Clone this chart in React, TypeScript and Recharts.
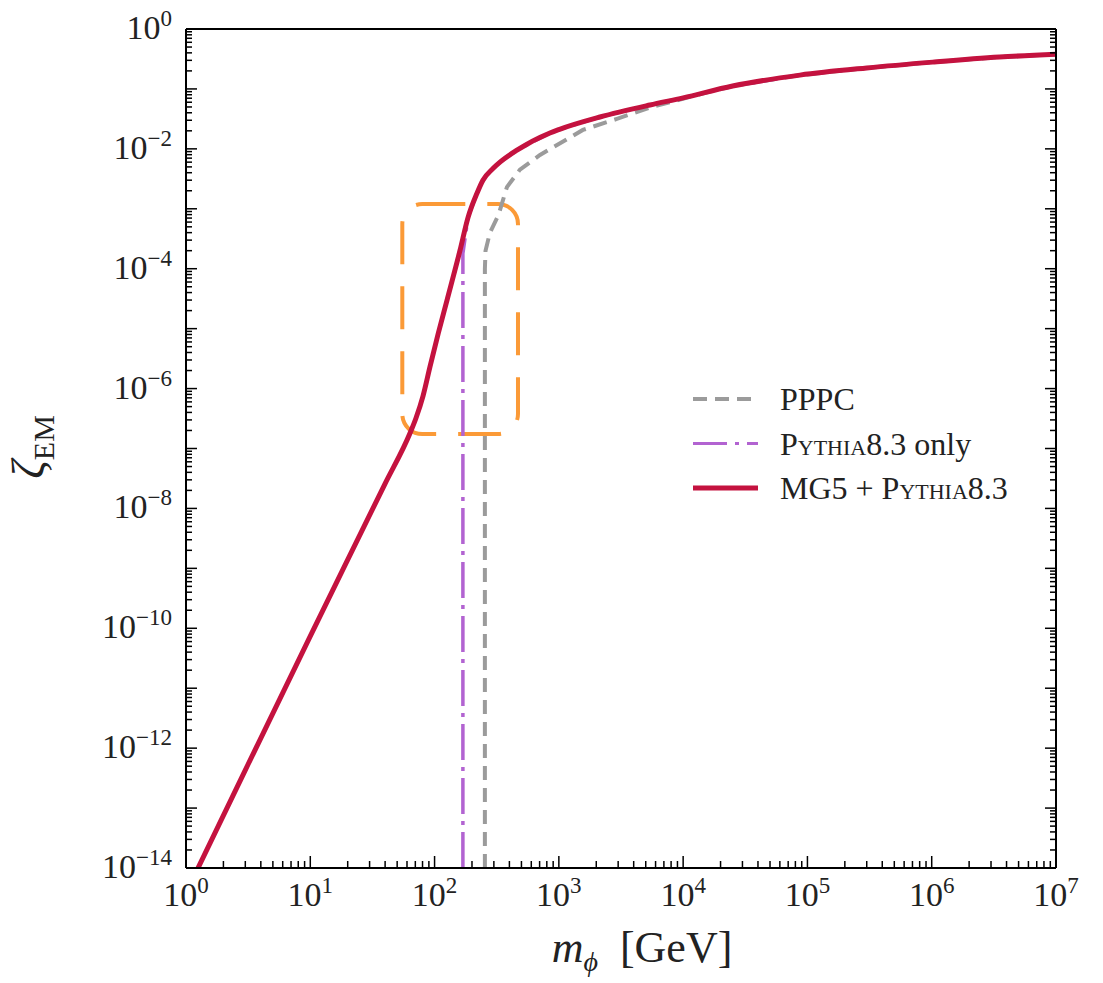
import React from "react";
import { LineChart, Line, XAxis, YAxis, ReferenceArea, Legend, Label } from "recharts";

const FONT = '"Liberation Serif", "DejaVu Serif", serif';

// axis decades
const X_DECADES = [1, 10, 100, 1e3, 1e4, 1e5, 1e6, 1e7];
const Y_DECADES = [1e-14, 1e-13, 1e-12, 1e-11, 1e-10, 1e-9, 1e-8, 1e-7, 1e-6, 1e-5, 1e-4, 1e-3, 1e-2, 1e-1, 1];
const Y_LABEL_EXP = [-14, -12, -10, -8, -6, -4, -2, 0];
const MINOR_STEPS = [2, 3, 4, 5, 6, 7, 8, 9];

// MG5 + Pythia8.3
const MG5_MASS = [1.25, 3, 10, 18.7, 40, 63.4, 70.8, 80.7, 91.8, 107, 126, 160, 186, 219, 245, 295, 336, 460, 847, 1000, 2140, 5410, 1e4, 2.5e4, 8.7e4, 3e5, 1.02e6, 3.5e6, 1e7];
const MG5_ZETA = [1e-14, 4.3e-13, 7.4e-11, 1.05e-9, 2.6e-8, 1.8e-7, 3.2e-7, 7.5e-7, 2.3e-6, 8.3e-6, 3.0e-5, 2.0e-4, 7.2e-4, 1.8e-3, 3.0e-3, 4.7e-3, 6.0e-3, 9.5e-3, 1.84e-2, 2.1e-2, 3.4e-2, 5.4e-2, 7.1e-2, 0.112, 0.17, 0.224, 0.28, 0.34, 0.38];

// Pythia8.3 only
const PY_MASS = [169, 169, 186, 219, 245, 295, 336, 460, 847, 1000, 2140, 5410, 1e4, 2.5e4, 8.7e4, 3e5, 1.02e6, 3.5e6, 1e7];
const PY_ZETA = [1e-14, 1.8e-4, 7.2e-4, 1.8e-3, 3.0e-3, 4.7e-3, 6.0e-3, 9.5e-3, 1.84e-2, 2.1e-2, 3.4e-2, 5.4e-2, 7.1e-2, 0.112, 0.17, 0.224, 0.28, 0.34, 0.38];

// PPPC
const PPPC_MASS = [254, 254, 257, 279, 327, 382, 486, 705, 1560, 2930, 5410, 1.26e4, 2.5e4, 8.7e4, 3e5, 1.02e6, 3.5e6, 1e7];
const PPPC_ZETA = [1e-14, 1.0e-4, 2.0e-4, 4.0e-4, 7.9e-4, 2.3e-3, 4.5e-3, 7.9e-3, 2.07e-2, 3.16e-2, 4.9e-2, 7.8e-2, 0.112, 0.17, 0.224, 0.28, 0.34, 0.38];

// zoom box (orange)
const BOX_MASS = [55, 469];
const BOX_ZETA = [1.74e-7, 1.2e-3];

const toRows = (m: number[], z: number[]) => m.map((v, i) => ({ m: v, z: z[i] }));
const mg5Data = toRows(MG5_MASS, MG5_ZETA);
const pyData = toRows(PY_MASS, PY_ZETA);
const pppcData = toRows(PPPC_MASS, PPPC_ZETA);

const withMinors = (dec: number[]) =>
  dec.flatMap((d, i) => (i < dec.length - 1 ? [d, ...MINOR_STEPS.map((k) => k * d)] : [d]));
const X_TICKS = withMinors(X_DECADES);
const Y_TICKS = withMinors(Y_DECADES);

const expOf = (v: number) => Math.round(Math.log10(v));
const isMajor = (v: number) => Math.abs(Math.log10(v) - expOf(v)) < 1e-6;
const supText = (e: number) => (e < 0 ? "\u2212" + Math.abs(e) : String(e));

const COLORS = {
  mg5: "#c4123f",
  py: "#b263d1",
  pppc: "#9b9b9b",
  box: "#fb9a37",
};

const TICK_W = 1.5;

const BottomTick = (props: any) => {
  const { x, y, payload } = props;
  const v = payload.value;
  const major = isMajor(v);
  return (
    <g>
      <line x1={x} x2={x} y1={y} y2={y - (major ? 12 : 7)} stroke="#000" strokeWidth={TICK_W} />
      {major && (
        <text x={x} y={y + 38} textAnchor="middle" fontSize={34} fontFamily={FONT} fill="#222">
          10<tspan dy={-13} fontSize={23}>{supText(expOf(v))}</tspan>
        </text>
      )}
    </g>
  );
};

const TopTick = (props: any) => {
  const { x, y, payload } = props;
  const major = isMajor(payload.value);
  return <line x1={x} x2={x} y1={y} y2={y + (major ? 12 : 7)} stroke="#000" strokeWidth={TICK_W} />;
};

const LeftTick = (props: any) => {
  const { x, y, payload } = props;
  const v = payload.value;
  const major = isMajor(v);
  const e = expOf(v);
  return (
    <g>
      <line x1={x} x2={x + (major ? 11 : 6)} y1={y} y2={y} stroke="#000" strokeWidth={TICK_W} />
      {major && Y_LABEL_EXP.includes(e) && (
        <text x={x - 14} y={y + 10} textAnchor="end" fontSize={34} fontFamily={FONT} fill="#222">
          10<tspan dy={-13} fontSize={23}>{supText(e)}</tspan>
        </text>
      )}
    </g>
  );
};

const RightTick = (props: any) => {
  const { x, y, payload } = props;
  const major = isMajor(payload.value);
  return <line x1={x} x2={x - (major ? 11 : 6)} y1={y} y2={y} stroke="#000" strokeWidth={TICK_W} />;
};

const RoundedBox = (props: any) => {
  const { x, y, width, height } = props;
  return (
    <rect
      x={x}
      y={y}
      width={width}
      height={height}
      rx={20}
      ry={20}
      fill="none"
      stroke={COLORS.box}
      strokeWidth={4}
      strokeDasharray="43 22"
    />
  );
};

const LEGEND_ITEMS = [
  { key: "pppc", color: COLORS.pppc, dash: "14 8", width: 4 },
  { key: "py", color: COLORS.py, dash: "34 8 4 8", width: 3 },
  { key: "mg5", color: COLORS.mg5, dash: undefined, width: 5 },
];

const LegendBox = () => (
  <svg width={380} height={140} style={{ display: "block" }}>
    {LEGEND_ITEMS.map((it, i) => {
      const cy = 26 + i * 44.5;
      return (
        <g key={it.key}>
          <line x1={5} x2={70} y1={cy} y2={cy} stroke={it.color} strokeWidth={it.width} strokeDasharray={it.dash} />
          <text x={92} y={cy + 11} fontSize={32} fontFamily={FONT} fill="#222">
            {it.key === "pppc" && "PPPC"}
            {it.key === "py" && (
              <>
                P<tspan fontVariant="small-caps">ythia</tspan>8.3 only
              </>
            )}
            {it.key === "mg5" && (
              <>
                MG5 + P<tspan fontVariant="small-caps">ythia</tspan>8.3
              </>
            )}
          </text>
        </g>
      );
    })}
  </svg>
);

export default function App() {
  return (
    <div style={{ width: 1103, height: 983, margin: "-8px 0 0 -8px", background: "#fff" }}>
      <LineChart width={1103} height={983} margin={{ top: 28, right: 46, bottom: 35, left: 0 }}>
        <XAxis
          xAxisId="b"
          dataKey="m"
          type="number"
          scale="log"
          domain={[1, 1e7]}
          allowDataOverflow
          ticks={X_TICKS}
          interval={0}
          tickSize={0}
          tickMargin={0}
          tick={<BottomTick />}
          tickLine={false}
          height={80}
          axisLine={{ stroke: "#000", strokeWidth: 2 }}
        >
          <Label
            content={() => (
              <text x={642} y={962} textAnchor="middle" fontSize={44} fontFamily={FONT} fill="#222">
                <tspan fontStyle="italic">m</tspan>
                <tspan fontStyle="italic" fontSize={28} dy={9}>ϕ</tspan>
                <tspan dy={-9} dx={22}>[GeV]</tspan>
              </text>
            )}
          />
        </XAxis>
        <XAxis
          xAxisId="t"
          orientation="top"
          type="number"
          scale="log"
          domain={[1, 1e7]}
          allowDataOverflow
          ticks={X_TICKS}
          interval={0}
          tickSize={0}
          tickMargin={0}
          tick={<TopTick />}
          tickLine={false}
          height={1}
          axisLine={{ stroke: "#000", strokeWidth: 2 }}
        />
        <YAxis
          yAxisId="l"
          type="number"
          scale="log"
          domain={[1e-14, 1]}
          allowDataOverflow
          ticks={Y_TICKS}
          interval={0}
          tickSize={0}
          tickMargin={0}
          tick={<LeftTick />}
          tickLine={false}
          width={186}
          axisLine={{ stroke: "#000", strokeWidth: 2 }}
        >
          <Label
            content={() => (
              <text
                x={44}
                y={447}
                transform="rotate(-90 44 447)"
                textAnchor="middle"
                fontSize={46}
                fontFamily={FONT}
                fill="#222"
              >
                <tspan fontStyle="italic">ζ</tspan>
                <tspan fontSize={30} dy={10}>EM</tspan>
              </text>
            )}
          />
        </YAxis>
        <YAxis
          yAxisId="r"
          orientation="right"
          type="number"
          scale="log"
          domain={[1e-14, 1]}
          allowDataOverflow
          ticks={Y_TICKS}
          interval={0}
          tickSize={0}
          tickMargin={0}
          tick={<RightTick />}
          tickLine={false}
          width={1}
          axisLine={{ stroke: "#000", strokeWidth: 2 }}
        />
        <ReferenceArea
          xAxisId="b"
          yAxisId="l"
          x1={BOX_MASS[0]}
          x2={BOX_MASS[1]}
          y1={BOX_ZETA[0]}
          y2={BOX_ZETA[1]}
          shape={<RoundedBox />}
        />
        <Line
          xAxisId="b"
          yAxisId="l"
          data={pppcData}
          dataKey="z"
          type="linear"
          stroke={COLORS.pppc}
          strokeWidth={4}
          strokeDasharray="14 8"
          dot={false}
          isAnimationActive={false}
        />
        <Line
          xAxisId="b"
          yAxisId="l"
          data={pyData}
          dataKey="z"
          type="linear"
          stroke={COLORS.py}
          strokeWidth={3.5}
          strokeDasharray="36 7 4 7"
          dot={false}
          isAnimationActive={false}
        />
        <Line
          xAxisId="b"
          yAxisId="l"
          data={mg5Data}
          dataKey="z"
          type="monotone"
          stroke={COLORS.mg5}
          strokeWidth={5}
          dot={false}
          isAnimationActive={false}
        />
        <Legend
          layout="vertical"
          align="center"
          verticalAlign="middle"
          wrapperStyle={{ left: 688, top: 373, width: 380, height: 140 }}
          content={() => <LegendBox />}
        />
      </LineChart>
    </div>
  );
}
